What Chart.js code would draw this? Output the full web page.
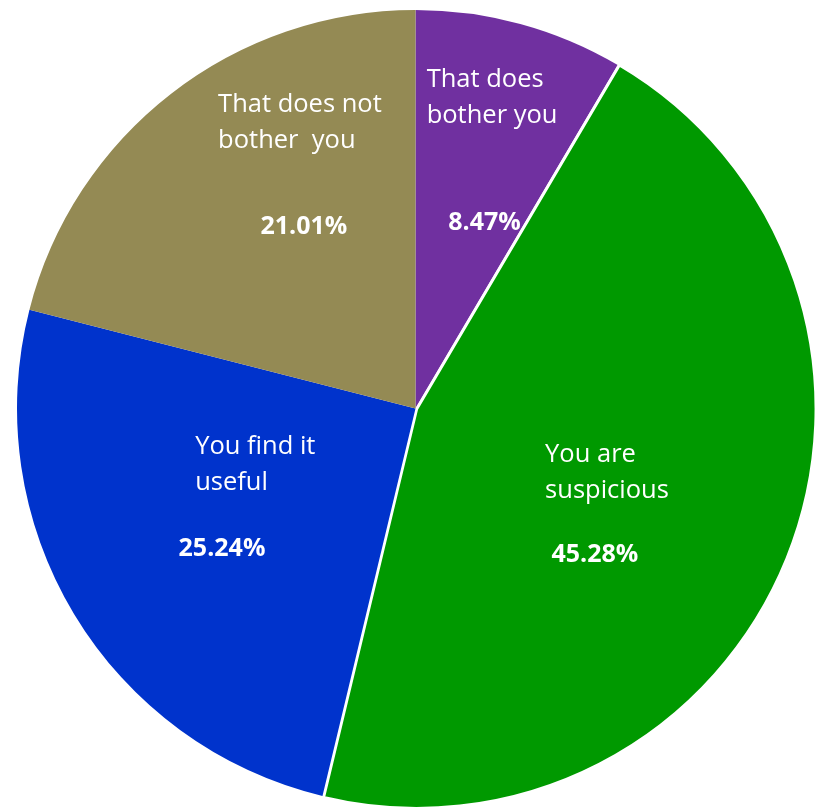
<!DOCTYPE html>
<html>
<head>
<meta charset="utf-8">
<script src="https://cdn.jsdelivr.net/npm/chart.js@4.4.1/dist/chart.umd.min.js"></script>
<style>
    html, body { margin: 0; padding: 0; background: #fff; }
    canvas { display: block; }
</style>
</head>
<body>
<canvas id="chartPie" width="821" height="812"></canvas>
<script>
// datos del grafico
const categorias = [
    ["That does", "bother you"],
    ["You are", "suspicious"],
    ["You find it", "useful"],
    ["That does not", "bother  you"]
];
const porcentajes = [8.47, 45.28, 25.24, 21.01];
const etiquetasPct = ["8.47%", "45.28%", "25.24%", "21.01%"];

const colores = ["#7030A0", "#009900", "#0033CC", "#948A54"];

// posicion de etiquetas: [delta angulo (grados) respecto al centro del sector, fraccion del radio]
const posNombre = [[-13.3, 0.826], [-2.5, 0.345], [21.3, 0.561], [4.8, 0.909]];
const posPct = [[5.2, 0.496], [17.2, 0.581], [-4.9, 0.600], [6.2, 0.534]];

const etiquetasPlugin = {
    id: "etiquetas",
    afterDatasetsDraw(chart) {
        const ctx = chart.ctx;
        const arcs = chart.getDatasetMeta(0).data;
        ctx.save();
        ctx.fillStyle = "#fff";
        ctx.textBaseline = "middle";
        arcs.forEach((arc, i) => {
            const p = arc.getProps(["x", "y", "startAngle", "endAngle", "outerRadius"], true);
            const medio = (p.startAngle + p.endAngle) / 2;

            let a = medio + posNombre[i][0] * Math.PI / 180;
            let r = p.outerRadius * posNombre[i][1];
            const nx = p.x + r * Math.cos(a);
            const ny = p.y + r * Math.sin(a);
            ctx.font = "25.5px 'Open Sans'";
            ctx.textAlign = "left";
            categorias[i].forEach((linea, j) => {
                ctx.fillText(linea, nx, ny + j * 36);
            });

            a = medio + posPct[i][0] * Math.PI / 180;
            r = p.outerRadius * posPct[i][1];
            ctx.font = "bold 25px 'Open Sans'";
            ctx.textAlign = "center";
            ctx.fillText(etiquetasPct[i], p.x + r * Math.cos(a), p.y + r * Math.sin(a));
        });
        ctx.restore();
    }
};

const ctx = document.getElementById("chartPie");
new Chart(ctx, {
    type: "pie",
    data: {
        labels: categorias.map(c => c.join(" ")),
        datasets: [{
            data: porcentajes,
            backgroundColor: colores,
            borderColor: "#fff",
            borderWidth: [0, 3, 0, 0],
            offset: [0, 5, 0, 0]
        }]
    },
    options: {
        responsive: false,
        animation: false,
        layout: {
            padding: { left: 13, right: 3, top: 5, bottom: 0 }
        },
        plugins: {
            legend: { display: false },
            tooltip: { enabled: false }
        }
    },
    plugins: [etiquetasPlugin]
});
</script>
</body>
</html>
